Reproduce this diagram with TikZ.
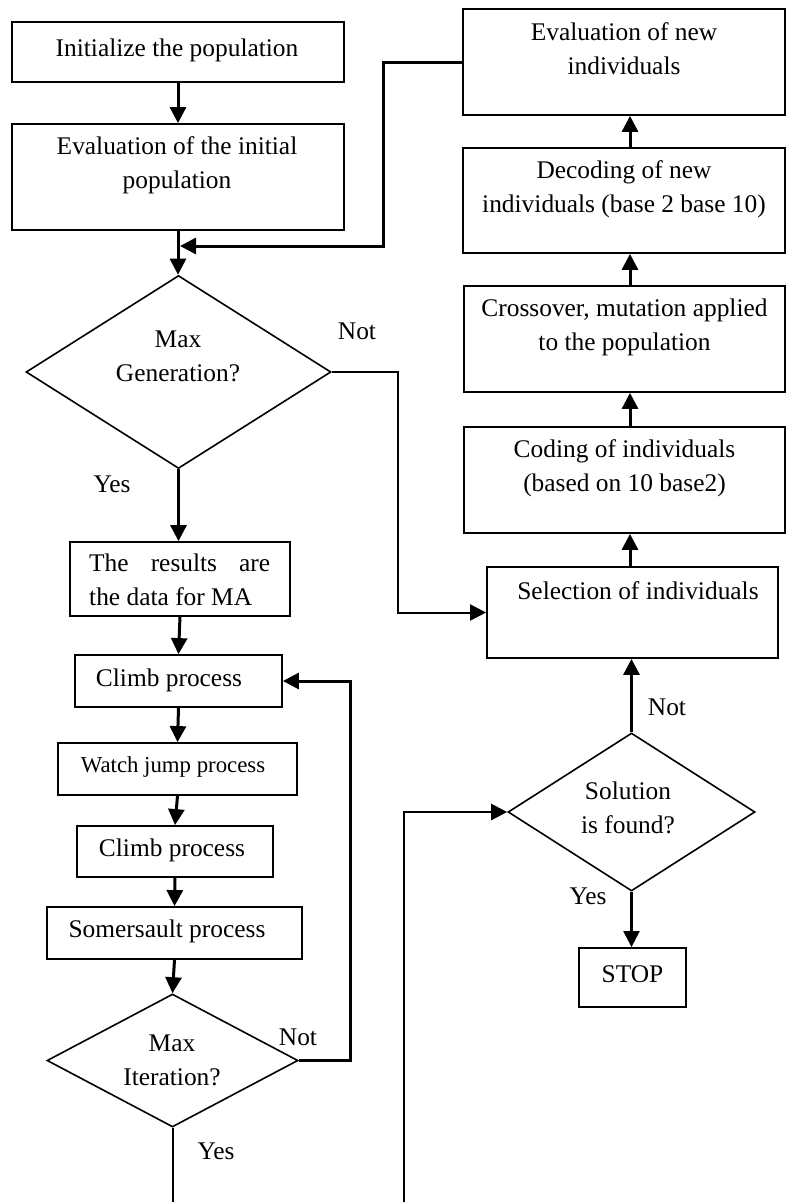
\documentclass[tikz,border=0pt]{standalone}
\usepackage{fontspec}
\setmainfont{Liberation Serif}
\usetikzlibrary{arrows.meta,shapes.geometric}
\begin{document}
\begin{tikzpicture}[x=1pt,y=-1pt,
  box/.style={draw, rectangle, line width=1.8pt, inner sep=0pt},
  decision/.style={draw, diamond, line width=1.6pt, inner sep=0pt},
  txt/.style={inner sep=0pt, align=center, font=\fontsize{25.4}{34}\selectfont},
  smalltxt/.style={inner sep=0pt, align=center, font=\fontsize{22.8}{30}\selectfont},
  flow/.style={line width=3pt, -{Triangle[length=16pt,width=16pt]}},
  link/.style={line width=2pt},
  linkarrow/.style={line width=2.2pt, -{Triangle[length=16pt,width=16pt]}}]
\useasboundingbox (0,0) rectangle (787,1202);

% ---- left column: genetic algorithm start ----
\node[box, minimum width=332pt, minimum height=60pt] (init) at (178,52) {};
\node[txt] (tinit) at (177,50) {Initialize the population};

\node[box, minimum width=332pt, minimum height=106pt] (evalinit) at (178,177) {};
\node[txt] (tevalinit) at (177,165) {Evaluation of the initial\\population};

\node[decision, minimum width=305pt, minimum height=193pt] (gen) at (178.5,372) {};
\node[txt] (tgen) at (178,356) {Max\\Generation?};

\node[box, minimum width=220pt, minimum height=74pt] (results) at (180,579) {};
\node[txt, align=left, anchor=west] (tresults) at (89,580) {\makebox[181pt][s]{The results are}\\the data for MA};

% ---- left column: MA loop ----
\node[box, minimum width=207pt, minimum height=52pt] (climbA) at (178.5,681) {};
\node[txt] (tclimbA) at (169,680) {Climb process};

\node[box, minimum width=239pt, minimum height=52pt] (watch) at (177.5,769) {};
\node[smalltxt] (twatch) at (173,767) {Watch jump process};

\node[box, minimum width=196pt, minimum height=51pt] (climbB) at (175,851.5) {};
\node[txt] (tclimbB) at (172,850) {Climb process};

\node[box, minimum width=255pt, minimum height=52pt] (somer) at (174.5,933) {};
\node[txt] (tsomer) at (167,931) {Somersault process};

\node[decision, minimum width=251pt, minimum height=133pt] (iter) at (172.5,1060.5) {};
\node[txt] (titer) at (172,1060) {Max\\Iteration?};

% ---- right column ----
\node[box, minimum width=322pt, minimum height=106pt] (evalnew) at (624,62) {};
\node[txt] (tevalnew) at (624,49) {Evaluation of new\\individuals};

\node[box, minimum width=322pt, minimum height=105pt] (decode) at (624,200.5) {};
\node[txt] (tdecode) at (624,189) {Decoding of new\\individuals (base 2 base 10)};

\node[box, minimum width=321pt, minimum height=106pt] (cross) at (624.5,339) {};
\node[txt] (tcross) at (624.5,327) {Crossover, mutation applied\\to the population};

\node[box, minimum width=321pt, minimum height=106pt] (coding) at (624.5,480) {};
\node[txt] (tcoding) at (624.5,468) {Coding of individuals\\(based on 10 base2)};

\node[box, minimum width=291pt, minimum height=91pt] (sel) at (632.5,612.5) {};
\node[txt] (tsel) at (638,591) {Selection of individuals};

\node[decision, minimum width=247pt, minimum height=158pt] (sol) at (631.5,812) {};
\node[txt] (tsol) at (628,808) {Solution\\is found?};

\node[box, minimum width=107pt, minimum height=59pt] (stop) at (632.5,977.5) {};
\node[txt] (tstop) at (632.5,974) {STOP};

% ---- helper points ----
\coordinate (join) at (180,246);
\coordinate (col) at (630,0);
\coordinate (endA) at (172.5,1202);
\coordinate (endB) at (404,1202);

% ---- connectors ----
\draw[flow] (init.south) -- (evalinit.north);
\draw[flow] (evalinit.south) -- (evalinit.south |- gen.north);
\draw[flow] (evalnew.west) -- (383,62) -- (383,246) -- (join);
\draw[link, -{Triangle[length=16pt,width=16pt]}] (gen.east) -- (398,372) |- (sel.west);
\draw[flow] (gen.south) -- (gen.south |- results.north);
\draw[flow] (results.south) -- (climbA.north);
\draw[flow] (climbA.south) -- (watch.north);
\draw[flow] (watch.south) -- (climbB.north);
\draw[flow] (climbB.south) -- (somer.north);
\draw[flow] (somer.south) -- (iter.north);
\draw[flow] (iter.east) -- (350,1060.5) |- (climbA.east);
\draw[link] (iter.south) -- (endA);
\draw[linkarrow] (endB) |- (sol.west);

\draw[flow] (sel.north -| col) -- (coding.south -| col);
\draw[flow] (coding.north -| col) -- (cross.south -| col);
\draw[flow] (cross.north -| col) -- (decode.south -| col);
\draw[flow] (decode.north -| col) -- (evalnew.south -| col);
\draw[flow] (sol.north) -- (sol.north |- sel.south);
\draw[linkarrow] (sol.south) -- (sol.south |- stop.north);

% ---- branch labels ----
\node[txt] (lgenno) at (357,331) {Not};
\node[txt] (lgenyes) at (112,484) {Yes};
\node[txt] (literno) at (298,1037) {Not};
\node[txt] (literyes) at (216,1151) {Yes};
\node[txt] (lsolno) at (667,707) {Not};
\node[txt] (lsolyes) at (588,896) {Yes};
\end{tikzpicture}
\end{document}
